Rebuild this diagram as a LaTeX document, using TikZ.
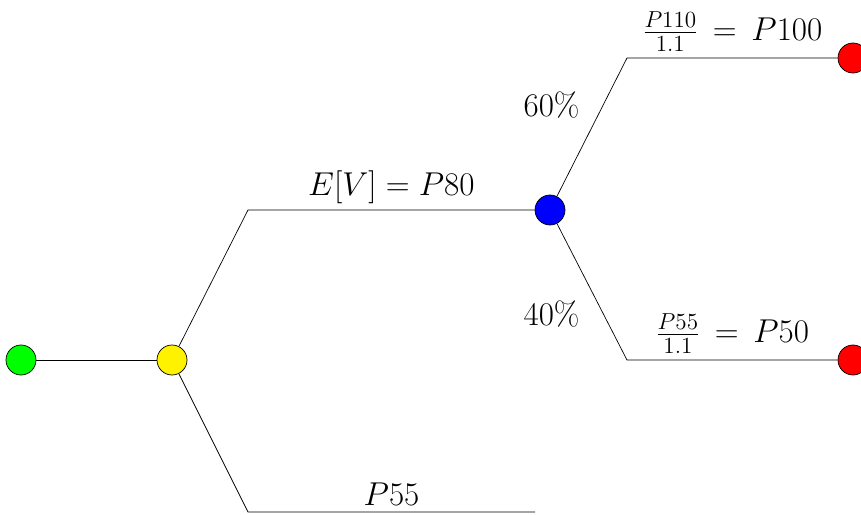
\documentclass[tikz,border=0pt]{standalone}
\usepackage{fix-cm}
\usepackage{amsmath}
\usetikzlibrary{positioning}
\begin{document}
\begin{tikzpicture}[font=\fontsize{18.8}{23}\selectfont,dot/.style={circle,draw,minimum size=6mm,inner sep=0pt}]
\useasboundingbox (-0.42,-3.1) rectangle (16.8,7.2);
\node[dot,fill=green] (start) at (0,0) {};
\node[dot,fill=yellow] (choice) at (3.02,0) {};
\node[dot,fill=blue] (chance) at (10.58,3) {};
\node[dot,fill=red] (high) at (16.64,6.04) {};
\node[dot,fill=red] (low) at (16.64,0) {};
\coordinate (up) at (4.54,3);
\coordinate (down) at (4.54,-3.04);
\coordinate (safe) at (10.28,-3.04);
\coordinate (hup) at (12.12,6.04);
\coordinate (hdown) at (12.12,0);
\draw (start)--(choice);
\draw (choice)--(up)--node[above]{$E[V] = P80$}(chance);
\draw (choice)--(down)--node[above]{$P55$}(safe);
\draw (chance)--node[pos=0.66,left=3.5mm]{60\%}(hup)--node[above]{$\frac{P110}{1.1}\,=\,P100$}(high);
\draw (chance)--node[pos=0.66,left=3.5mm]{40\%}(hdown)--node[above]{$\frac{P55}{1.1}\,=\,P50$}(low);
\end{tikzpicture}
\end{document}
